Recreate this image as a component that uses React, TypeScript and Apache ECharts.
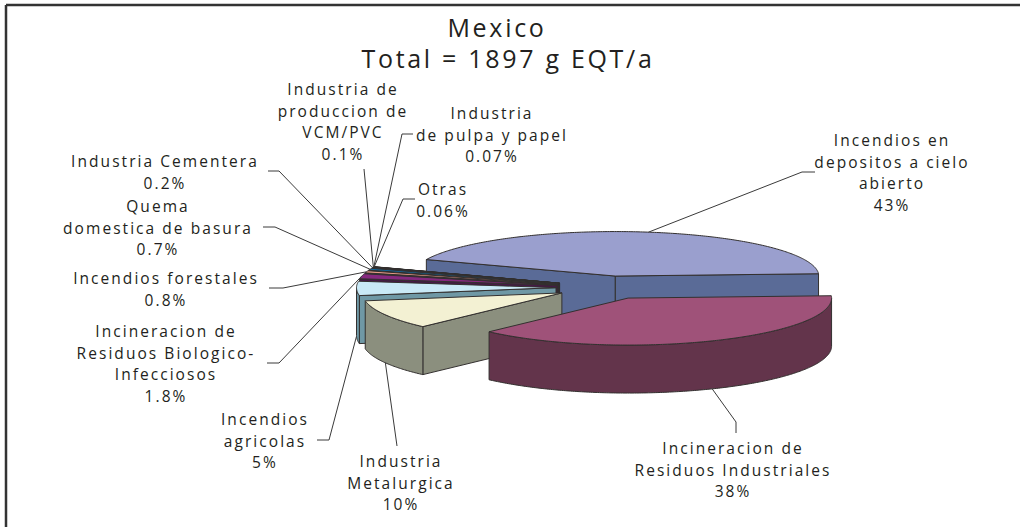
import React, { useEffect, useRef } from "react";
import * as echarts from "echarts";

// Values, clockwise from the right-hand edge of the pie (percent of the total)
const sliceNames = [
  "Incineracion de Residuos Industriales",
  "Industria Metalurgica",
  "Incendios agricolas",
  "Incineracion de Residuos Biologico-Infecciosos",
  "Incendios forestales",
  "Quema domestica de basura",
  "Industria Cementera",
  "Industria de produccion de VCM/PVC",
  "Industria de pulpa y papel",
  "Otras",
  "Incendios en depositos a cielo abierto",
];
const sliceValues = [38, 10, 5, 1.8, 0.8, 0.7, 0.2, 0.1, 0.07, 0.06, 43];
const percentLabels = ["38%", "10%", "5%", "1.8%", "0.8%", "0.7%", "0.2%", "0.1%", "0.07%", "0.06%", "43%"];
const titleLines = ["Mexico", "Total = 1897 g EQT/a"];

// Styles
const topColors = ["#9f5279", "#f3f1d3", "#c9e9f6", "#86297f", "#e59a86", "#12689c", "#2a1c30", "#241a28", "#201820", "#1c1c1c", "#9a9fce"];
const sideColors = ["#63344b", "#8b8f7e", "#6f98a5", "#451a44", "#3a2030", "#16283c", "#1c1420", "#1c1420", "#1c1420", "#1c1c1c", "#5a6b97"];

// Pie projection
const CX = 607, CY = 287.5, RX = 203.5, RX_LEFT = 199.5, RY_BACK = 44.5, RY_FRONT = 47;
const EXPLODE_X = 51, EXPLODE_Y = 11.6, DEPTH = 48, START_DEG = 3;

// Label layout: text block centre x, first-line y, lines
const labelLayout: { x: number; y: number; lines: string[] }[] = [
  { x: 733, y: 448, lines: ["Incineracion de", "Residuos Industriales"] },
  { x: 401, y: 461, lines: ["Industria", "Metalurgica"] },
  { x: 265, y: 419, lines: ["Incendios", "agricolas"] },
  { x: 166, y: 331, lines: ["Incineracion de", "Residuos Biologico-", "Infecciosos"] },
  { x: 166, y: 278, lines: ["Incendios forestales"] },
  { x: 158, y: 206, lines: ["Quema", "domestica de basura"] },
  { x: 165, y: 161, lines: ["Industria Cementera"] },
  { x: 343, y: 89, lines: ["Industria de", "produccion de", "VCM/PVC"] },
  { x: 492, y: 113, lines: ["Industria", "de pulpa y papel"] },
  { x: 443, y: 189, lines: ["Otras"] },
  { x: 892, y: 140, lines: ["Incendios en", "depositos a cielo", "abierto"] },
];
// Leader-line bends, listed from the pie outward towards the label
const leaderBends: number[][][] = [
  [[736, 422], [736, 433]],
  [[397, 446]],
  [[329, 440], [317, 440]],
  [[279, 363], [267, 363]],
  [[283, 288], [269, 288]],
  [[275, 227], [263, 227]],
  [[279, 171], [268, 171]],
  [[364, 169]],
  [[402, 134], [413, 134]],
  [[403, 199], [415, 199]],
  [[802, 172], [815, 172]],
];

const total = sliceValues.reduce((a, b) => a + b, 0);
const lastIndex = sliceValues.length - 1;
const rad = (d: number) => (d * Math.PI) / 180;

function sliceAngles(i: number) {
  let cum = 0;
  for (let k = 0; k < i; k++) cum += sliceValues[k];
  const start = START_DEG - (cum / total) * 360;
  const end = start - (sliceValues[i] / total) * 360;
  return { start, end, mid: (start + end) / 2 };
}
function apex(i: number) {
  const { mid } = sliceAngles(i);
  return [CX + EXPLODE_X * Math.cos(rad(mid)), CY - EXPLODE_Y * Math.sin(rad(mid))];
}
function rim(i: number, t: number) {
  const a = apex(i);
  const s = Math.sin(rad(t));
  const c = Math.cos(rad(t));
  const rx = c < 0 && i !== lastIndex ? RX_LEFT : RX;
  return [a[0] + rx * c, a[1] - (s > 0 ? RY_BACK : RY_FRONT) * s];
}
const down = (p: number[]) => [p[0], p[1] + DEPTH];

function renderSlice(_: any, api: any) {
  const i = api.value(0);
  const { start, end } = sliceAngles(i);
  const a = apex(i);
  const children: any[] = [];
  const edge = { stroke: "#33302f", lineWidth: 1, lineJoin: "round" };
  const wall = (t: number) => {
    const r = rim(i, t);
    children.push({
      type: "polygon",
      shape: { points: [a, r, down(r), down(a)] },
      style: { fill: sideColors[i], ...edge },
    });
  };
  if (Math.cos(rad(start)) < 0) wall(start);
  if (Math.cos(rad(end)) > 0) wall(end);

  const steps = Math.max(4, Math.ceil((start - end) * 1.5));
  const arc: number[][] = [];
  const front: number[][] = [];
  for (let s = 0; s <= steps; s++) {
    const t = start + ((end - start) * s) / steps;
    const p = rim(i, t);
    arc.push(p);
    if (Math.sin(rad(t)) <= 0) front.push(p);
  }
  if (front.length > 1) {
    children.push({
      type: "polygon",
      shape: { points: [...front, ...front.slice().reverse().map(down)] },
      style: { fill: sideColors[i], ...edge },
    });
  }
  children.push({
    type: "polygon",
    shape: { points: [a, ...arc] },
    style: { fill: topColors[i], ...edge },
  });
  return { type: "group", children };
}

function renderLeader(_: any, api: any) {
  const i = api.value(0);
  const { mid } = sliceAngles(i);
  let anchor = rim(i, mid);
  if (Math.sin(rad(mid)) < 0) anchor = down(anchor);
  return {
    type: "polyline",
    shape: { points: [anchor, ...leaderBends[i]] },
    style: { fill: "none", stroke: "#3a3a3a", lineWidth: 1 },
  };
}

const font = '"Open Sans", "Noto Sans", sans-serif';
function labelTexts() {
  const out: any[] = [];
  labelLayout.forEach((l, i) => {
    [...l.lines, percentLabels[i]].forEach((line, n) => {
      out.push({
        type: "text",
        x: l.x,
        y: l.y + n * 21.7,
        style: { text: line, font: `15.5px ${font}`, fill: "#231f20", textAlign: "center", textVerticalAlign: "middle" },
      });
    });
  });
  return out;
}

export default function App() {
  const ref = useRef<HTMLDivElement>(null);
  useEffect(() => {
    document.body.style.margin = "0";
    const chart = echarts.init(ref.current!, null, { renderer: "svg" });
    const indices = sliceValues.map((_, i) => i);
    // Painted back to front: the last slice sits at the back of the pie
    const paintOrder = indices.slice().reverse();
    chart.setOption({
      animation: false,
      backgroundColor: "#ffffff",
      graphic: [
        { type: "line", shape: { x1: 6, y1: 5, x2: 1020, y2: 5 }, style: { stroke: "#333333", lineWidth: 2.5 } },
        { type: "line", shape: { x1: 6, y1: 5, x2: 6, y2: 527 }, style: { stroke: "#333333", lineWidth: 2.5 } },
        { type: "text", x: 497, y: 27, style: { text: titleLines[0], font: `25px ${font}`, fill: "#231f20", textAlign: "center", textVerticalAlign: "middle" } },
        { type: "text", x: 508, y: 58, style: { text: titleLines[1], font: `25px ${font}`, fill: "#231f20", textAlign: "center", textVerticalAlign: "middle" } },
        ...labelTexts(),
      ],
      series: [
        { type: "custom", name: "Mexico", coordinateSystem: "none", silent: true, clip: false, renderItem: renderSlice, data: paintOrder.map((i) => [i, sliceValues[i], sliceNames[i]]) },
        { type: "custom", name: "Leaders", coordinateSystem: "none", silent: true, clip: false, renderItem: renderLeader, data: indices.map((i) => [i]) },
      ],
    });
    return () => chart.dispose();
  }, []);
  return (
    <>
      <style>{`#root svg text { letter-spacing: 2.05px; } #root svg text[style*="25px"] { letter-spacing: 2.7px; }`}</style>
      <div ref={ref} style={{ position: "absolute", left: 0, top: 0, width: 1020, height: 527 }} />
    </>
  );
}
